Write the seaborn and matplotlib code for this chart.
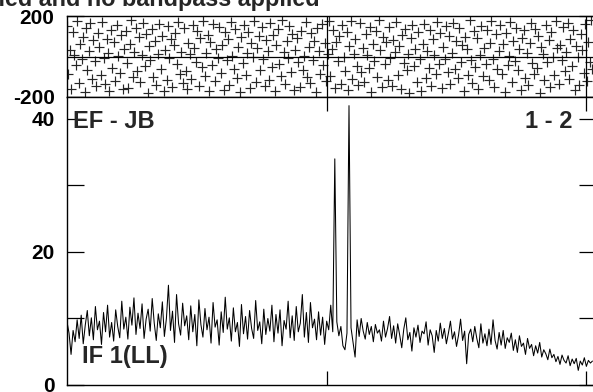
import numpy as np
import pandas as pd
import matplotlib
matplotlib.use("Agg")
import matplotlib.pyplot as plt
import seaborn as sns

sns.set_style("white")
plt.rcParams["font.family"] = ["Liberation Sans", "DejaVu Sans"]
plt.rcParams["font.weight"] = "bold"

title = "No calibration applied and no bandpass applied"
baseline_label = "EF - JB"
pair_label = "1 - 2"
if_label = "IF 1(LL)"

# amplitude, one value every 4 channels
amplitude = [
    9.5, 7.8, 4.6, 8.2, 6.5, 9.8, 7.0, 10.5, 6.2, 9.0, 11.2, 7.4, 10.1, 6.8, 11.8, 8.3, 9.6, 6.1, 10.9, 8.0,
    12.0, 7.2, 9.4, 6.6, 11.3, 8.8, 7.1, 12.6, 8.4, 10.2, 6.9, 11.7, 9.0, 13.1, 7.6, 10.8, 8.5, 12.2, 7.0, 9.9,
    11.4, 8.1, 13.0, 9.3, 6.7, 10.7, 8.6, 12.5, 7.3, 10.0, 15.0, 8.2, 11.1, 6.4, 13.6, 9.2, 7.5, 12.3, 8.9, 10.4,
    6.8, 11.9, 8.0, 10.6, 5.9, 12.8, 9.1, 7.2, 11.5, 8.3, 10.2, 6.3, 12.4, 8.7, 9.8, 6.0, 11.0, 7.9, 13.2, 8.4,
    10.1, 6.6, 11.6, 8.0, 9.4, 5.8, 12.1, 7.7, 10.3, 6.9, 11.2, 8.5, 7.0, 12.7, 8.2, 9.5, 6.2, 11.4, 7.6, 10.0,
    8.1, 12.0, 6.5, 10.6, 7.8, 11.3, 5.9, 9.7, 8.4, 12.6, 7.1, 10.4, 6.7, 11.8, 8.0, 9.3, 13.6, 7.2, 10.9, 6.4,
    12.4, 8.6, 9.9, 6.8, 11.0, 7.5, 10.2, 6.1, 9.6, 8.3, 12.0, 8.0, 34.0, 9.5, 7.4, 8.8, 5.9, 5.3, 7.8, 42.0,
    8.6, 6.4, 4.2, 9.8, 7.3, 10.0, 8.1, 6.9, 9.4, 7.6, 8.8, 6.5, 9.1, 7.8, 8.3, 6.6, 9.6, 7.2, 8.5, 10.3,
    7.0, 8.9, 6.3, 9.2, 7.5, 5.6, 8.4, 10.1, 6.8, 7.9, 5.1, 8.6, 7.2, 9.0, 6.4, 8.1, 7.7, 9.5, 6.0, 8.3,
    7.4, 4.9, 8.2, 6.6, 9.3, 7.0, 8.5, 6.2, 7.8, 9.6, 6.9, 8.0, 5.8, 7.5, 9.9, 6.7, 8.1, 3.2, 7.6, 8.4,
    6.5, 8.8, 7.0, 5.6, 9.2, 6.3, 7.7, 5.9, 8.4, 6.1, 9.8, 6.7, 5.4, 7.9, 6.0, 8.2, 5.5, 7.1, 6.4, 7.8,
    5.2, 6.8, 4.9, 7.4, 5.8, 6.3, 4.6, 7.0, 5.5, 6.1, 4.4, 5.9, 4.8, 6.4, 4.2, 5.3, 4.7, 3.8, 5.4, 4.1,
    4.6, 3.5, 4.3, 3.1, 4.5, 3.7, 3.3, 4.4, 2.9, 3.9, 3.2, 4.0, 2.2, 3.6, 3.0, 4.1, 2.8, 3.7, 3.3, 3.6,
]

# phase in degrees
phase = [
    152, -87, 34, -160, 121, 9, -44, 176, -131, 63, -12, 98, -175, 141, -66, 27, 167, -109, 80, -23,
    -148, 115, 45, -92, 172, -5, -138, 88, 16, -170, 130, -57, 71, -119, 158, 3, -81, 104, -162, 39,
    125, -30, -154, 60, 179, -99, 21, 143, -71, 94, -127, 7, 165, -46, 112, -179, 52, -15, 136, -103,
    77, -140, 12, 160, -62, 101, -168, 31, -118, 149, -8, 86, -151, 57, 118, -36, 170, -88, 24, -133,
    139, -74, -159, 68, 10, -111, 155, 42, -26, 127, -145, 92, -53, 177, -97, 18, 108, -172, 73, -40,
    162, -122, 36, -9, 145, -83, 58, -166, 122, -19, 84, -141, 171, 2, -60, 134, -106, 49, -177, 96,
    -33, 157, -90, 15, 119, -156, 66, -3, 174, -125, 40, 102, -69, 147, -14, -147, 83, 29, -114, 163,
    -51, 106, -171, 55, 137, -38, -96, 178, 20, -137, 75, -7, 150, -78, 110, -163, 33, 90, -28, -150,
    128, -65, 4, 168, -102, 47, -130, 116, -17, 79, -176, 140, 26, -85, 159, -43, 65, -120, 12, 173,
    -94, 37, 133, -157, 70, -24, 99, -135, 154, -1, -72, 123, -165, 51, 175, -110, 14, 87, -48, -142,
    166, -79, 43, -128, 113, 8, -58, 146, -173, 61, -21, 126, -100, 180, 30, -153, 95, -37, 71, -116,
    148, -6, -144, 82, 23, 169, -89, 54, -161, 107, -31, 138, -67, 11, -178, 93, 158, -49, 39, -124,
    120, -13, -170, 64, 161, -104, 28, -55, 131, -146, 85, 6, -86, 172, -35, 117, -158, 46, -11, 153,
    -76, 103, -136, 19, 164, -64, 76, -108, 143, -27, 58, -169, 97, 35, -92, 179, -18, -132, 124, -52,
    89, -160, 8, 151, -97, 44, -39, 132, -115, 69, 176, -10, -150, 109, -63, 25, 155, -84, 62, -174,
    114, -42, 1, 170, -126, 78, -20, 142, -68, 36, -163, 91, 130, -105, 17, -140, 67, 163, -32, -87,
    137, -56, 100, -179, 48, 13, -117, 156, -25, 81, -152, 121, -4, -91, 173, 41, -134, 59, -15, 144,
    -70, 22, 167, -112, 87, -45, 129, -164, 53, -2, -139, 111, 32, -82, 160, -121, 74, -29, 178, -61,
]

amp_df = pd.DataFrame({"channel": np.arange(len(amplitude)) * 4, "amp": amplitude})
ph_df = pd.DataFrame({"channel": np.linspace(0, 1036, len(phase)), "phase": phase})

fig = plt.figure(figsize=(5.93, 3.92), dpi=100)
left = 67 / 593
width = (596 - 67) / 593
ax_ph = fig.add_axes([left, 295 / 392, width, 81 / 392])
ax_amp = fig.add_axes([left, 7 / 392, width, 288 / 392])

# phase panel
sns.scatterplot(data=ph_df, x="channel", y="phase", marker="+", s=60, color="#262626",
                linewidth=0.85, ax=ax_ph, legend=False)
ax_ph.axhline(0, color="black", lw=0.9)
for xv in (512, 1024):
    ax_ph.axvline(xv, color="black", lw=0.9)
ax_ph.set_xlim(0, 1043)
ax_ph.set_ylim(-200, 200)
ax_ph.set_yticks([-200, 200])
ax_ph.set_yticklabels(["-200", "200"])
ax_ph.set_xticks([])
ax_ph.set_xlabel("")
ax_ph.set_ylabel("")

# amplitude panel
sns.lineplot(data=amp_df, x="channel", y="amp", color="black", lw=0.75, ax=ax_amp)
ax_amp.set_xlim(0, 1043)
ax_amp.set_ylim(0, 43.3)
ax_amp.set_yticks([0, 20, 40])
ax_amp.set_yticks([10, 30], minor=True)
ax_amp.set_xticks([512, 1024])
ax_amp.set_xticklabels([])
ax_amp.set_xlabel("")
ax_amp.set_ylabel("")

for ax in (ax_ph, ax_amp):
    for s in ax.spines.values():
        s.set_color("black")
        s.set_linewidth(1.0)
    ax.tick_params(axis="both", which="both", direction="in", length=12, width=0.9,
                   left=True, bottom=True, top=True, right=True,
                   labelsize=15, pad=9, colors="black")
    for lab in ax.get_yticklabels():
        lab.set_fontweight("bold")
ax_amp.tick_params(axis="x", which="both", top=True, bottom=True, length=10)

ax_amp.text(0.012, 0.955, baseline_label, transform=ax_amp.transAxes, fontsize=17,
            fontweight="bold", ha="left", va="top")
ax_amp.text(0.955, 0.955, pair_label, transform=ax_amp.transAxes, fontsize=17,
            fontweight="bold", ha="right", va="top")
ax_amp.text(0.028, 0.1, if_label, transform=ax_amp.transAxes, fontsize=17,
            fontweight="bold", ha="left", va="center")

fig.text(320 / 593, 1 - 6 / 392, title, fontsize=16.8, fontweight="bold",
         ha="right", va="baseline")

fig.savefig("out.png", dpi=100)
